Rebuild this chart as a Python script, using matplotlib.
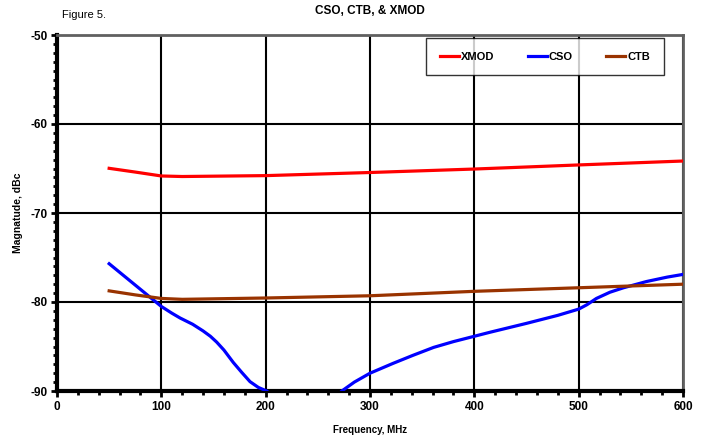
import matplotlib
matplotlib.use("Agg")
import matplotlib.pyplot as plt
from matplotlib.ticker import MultipleLocator

plt.rcParams['font.family'] = ['Liberation Sans', 'DejaVu Sans']
plt.rcParams['axes.unicode_minus'] = False

xmod_x = [50, 75, 100, 120, 200, 300, 400, 500, 600]
xmod_y = [-64.98, -65.4, -65.84, -65.9, -65.8, -65.45, -65.06, -64.6, -64.16]

cso_x = [50, 75, 100, 110, 118, 130, 140, 147, 153, 160, 169, 177, 185, 193, 201,
         215, 260, 273, 285, 300, 322, 341, 361, 380, 400, 415, 450, 480, 500, 508,
         517, 530, 543, 565, 585, 600]
cso_y = [-75.7, -78.1, -80.5, -81.25, -81.8, -82.5, -83.25, -83.85, -84.5, -85.4,
         -86.8, -87.9, -88.95, -89.6, -90.0, -91.5, -91.5, -90.0, -89.0, -88.0, -86.9,
         -86.0, -85.1, -84.45, -83.85, -83.4, -82.4, -81.5, -80.8, -80.3, -79.6, -78.9,
         -78.4, -77.7, -77.2, -76.9]

ctb_x = [50, 75, 100, 120, 200, 300, 400, 500, 600]
ctb_y = [-78.75, -79.2, -79.6, -79.7, -79.55, -79.3, -78.8, -78.4, -78.0]

fig = plt.figure(figsize=(7.07, 4.38), dpi=100)
ax = fig.add_axes([57/707, 47/438, 626/707, 356/438])

ax.plot(xmod_x, xmod_y, color='#FF0000', lw=2.3, label='XMOD', zorder=3,
        solid_joinstyle='round')
ax.plot(cso_x, cso_y, color='#0000FF', lw=2.3, label='CSO', zorder=3,
        solid_joinstyle='round')
ax.plot(ctb_x, ctb_y, color='#993300', lw=2.3, label='CTB', zorder=3,
        solid_joinstyle='round')

ax.set_xlim(0, 600)
ax.set_ylim(-90, -50)
ax.xaxis.set_major_locator(MultipleLocator(100))
ax.xaxis.set_minor_locator(MultipleLocator(20))
ax.yaxis.set_major_locator(MultipleLocator(10))
ax.yaxis.set_minor_locator(MultipleLocator(1))
ax.grid(True, which='major', color='black', lw=1.5, zorder=1)

ax.tick_params(which='major', direction='out', length=4, width=2, labelsize=8.5, pad=3)
ax.tick_params(which='minor', direction='out', length=3, width=2)
for lbl in ax.get_xticklabels() + ax.get_yticklabels():
    lbl.set_fontweight('bold')

ax.spines['left'].set_linewidth(3)
ax.spines['bottom'].set_linewidth(3)
ax.spines['left'].set_color('black')
ax.spines['bottom'].set_color('black')
for s in ('top', 'right'):
    ax.spines[s].set_color('#606060')
    ax.spines[s].set_linewidth(2)

ax.set_xlabel('Frequency, MHz', fontsize=7, fontweight='bold', labelpad=9)
ax.set_ylabel('Magnatude, dBc', fontsize=7.5, fontweight='bold', labelpad=5)

fig.text(370/707, 1 - 11/438, 'CSO, CTB, & XMOD', ha='center', va='center',
         fontsize=8.5, fontweight='bold')
fig.text(62/707, 1 - 15/438, 'Figure 5.', ha='left', va='center', fontsize=8)

leg = ax.legend(loc='center', bbox_to_anchor=((426-57)/626, 1 - 42/356, (664-426)/626, 41/356),
                mode='expand', ncol=3, frameon=True, fancybox=False, handlelength=1.7,
                handletextpad=0.2, borderpad=1.25, borderaxespad=0,
                prop={'weight': 'bold', 'size': 8})
leg.get_frame().set_edgecolor('black')
leg.get_frame().set_linewidth(1)
leg.set_zorder(5)

fig.savefig('out.png', dpi=100)
